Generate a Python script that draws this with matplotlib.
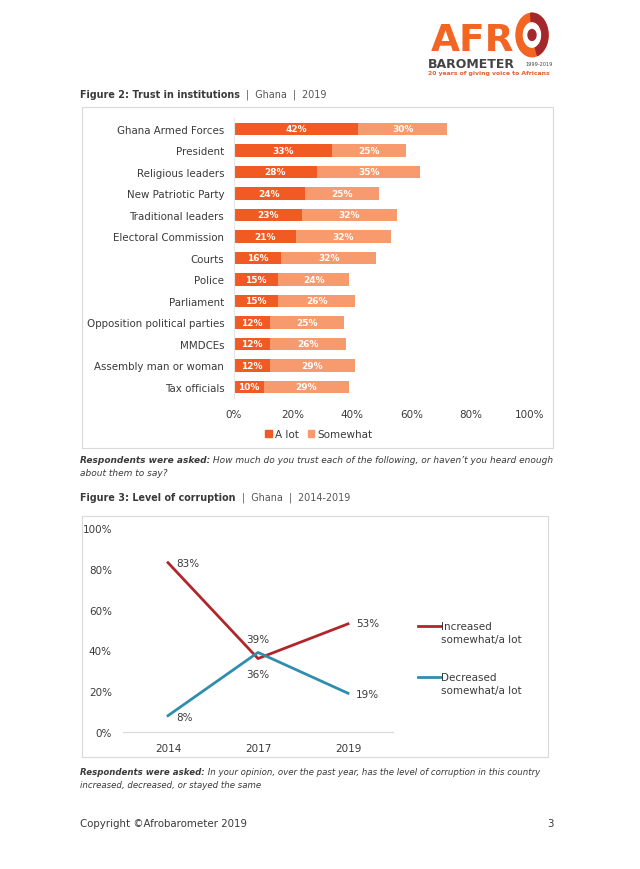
import matplotlib
matplotlib.use("Agg")
import matplotlib.pyplot as plt
import numpy as np
from matplotlib.patches import Patch, Rectangle, Wedge, Circle
from matplotlib.lines import Line2D

plt.rcParams["font.family"] = ["DejaVu Sans"]

# Figure 2 data
institutions = [
    "Ghana Armed Forces", "President", "Religious leaders", "New Patriotic Party",
    "Traditional leaders", "Electoral Commission", "Courts", "Police", "Parliament",
    "Opposition political parties", "MMDCEs", "Assembly man or woman", "Tax officials",
]
a_lot = [42, 33, 28, 24, 23, 21, 16, 15, 15, 12, 12, 12, 10]
somewhat = [30, 25, 35, 25, 32, 32, 32, 24, 26, 25, 26, 29, 29]
bar_ticks = [0, 20, 40, 60, 80, 100]

# Figure 3 data
years = ["2014", "2017", "2019"]
increased = [83, 36, 53]
decreased = [8, 39, 19]
line_ticks = [0, 20, 40, 60, 80, 100]

C_ALOT = "#F15A22"
C_SOME = "#F79A6E"
C_RED = "#B0262B"
C_BLUE = "#2F8DAE"
C_TEXT = "#3a3a3a"
C_BOX = "#d9d9d9"

W, H = 640, 870


def fx(x):
    return x / W


def fy(y):
    return 1 - y / H


fig = plt.figure(figsize=(6.4, 8.7), dpi=100)
fig.patch.set_facecolor("white")
renderer = fig.canvas.get_renderer()


def two_part(x, y, bold, rest, size, bold_style="normal", rest_style="normal",
             c1=C_TEXT, c2=C_TEXT):
    t = fig.text(fx(x), fy(y), bold, fontsize=size, fontweight="bold",
                 style=bold_style, color=c1, va="center", ha="left")
    bb = t.get_window_extent(renderer=renderer)
    fig.text(bb.x1 / W, fy(y), rest, fontsize=size, style=rest_style,
             color=c2, va="center", ha="left")


# ---- logo ----
fig.text(fx(431), fy(51), "AFR", fontsize=27, fontweight="bold", color="#F26522",
         va="baseline", ha="left")
logo_c = (fx(532), fy(36))
fig.add_artist(Wedge(logo_c, 16 / W, 0, 360, width=6 / W, color="#F26522",
                     transform=fig.transFigure))
fig.add_artist(Wedge(logo_c, 16 / W, -70, 95, width=6 / W, color="#A3282D",
                     transform=fig.transFigure))
fig.add_artist(Circle((fx(532), fy(36)), 4 / W, color="#A3282D", transform=fig.transFigure))
fig.text(fx(428), fy(64), "BAROMETER", fontsize=9, fontweight="bold", color="#444444",
         va="center", ha="left")
fig.text(fx(525), fy(64), "1999-2019", fontsize=3.6, color="#444444", va="center", ha="left")
fig.text(fx(428), fy(74), "20 years of giving voice to Africans", fontsize=4.4,
         fontweight="bold", color="#E0602E", va="center", ha="left")

# ---- Figure 2 ----
two_part(80, 95, "Figure 2: Trust in institutions", "  |  Ghana  |  2019", 6.9,
         c2="#555555")
fig.add_artist(Rectangle((fx(82), fy(449)), 471 / W, 341 / H, fill=False, ec=C_BOX,
                         lw=0.8, transform=fig.transFigure))

ax1 = fig.add_axes([fx(234), fy(398.75), 296 / W, 279.5 / H])
y = np.arange(len(institutions))
ax1.barh(y, a_lot, height=0.56, color=C_ALOT, label="A lot")
ax1.barh(y, somewhat, left=a_lot, height=0.56, color=C_SOME, label="Somewhat")
for i, (a, s) in enumerate(zip(a_lot, somewhat)):
    ax1.text(a / 2, i, f"{a}%", ha="center", va="center", color="white",
             fontsize=6.5, fontweight="bold")
    ax1.text(a + s / 2, i, f"{s}%", ha="center", va="center", color="white",
             fontsize=6.5, fontweight="bold")
ax1.set_xlim(0, 100)
ax1.set_ylim(len(institutions) - 0.5, -0.5)
ax1.set_yticks(y)
ax1.set_yticklabels(institutions, fontsize=7.4, color=C_TEXT)
ax1.set_xticks(bar_ticks)
ax1.set_xticklabels([f"{t}%" for t in bar_ticks], fontsize=7.5, color=C_TEXT)
ax1.tick_params(length=0)
ax1.tick_params(axis="y", pad=7)
ax1.tick_params(axis="x", pad=8)
for s in ["top", "right", "bottom"]:
    ax1.spines[s].set_visible(False)
ax1.spines["left"].set_color("#e6e6e6")
ax1.spines["left"].set_linewidth(0.8)

fig.legend(handles=[Patch(color=C_ALOT, label="A lot"), Patch(color=C_SOME, label="Somewhat")],
           loc="center", bbox_to_anchor=(fx(319), fy(435)), ncol=2, frameon=False,
           fontsize=7.5, handlelength=0.6, handleheight=0.6, handletextpad=0.3,
           columnspacing=0.9, labelcolor=C_TEXT)

two_part(80, 461, "Respondents were asked:",
         " How much do you trust each of the following, or haven\u2019t you heard enough",
         6.45, bold_style="italic", rest_style="italic")
fig.text(fx(80), fy(474), "about them to say?", fontsize=6.45, style="italic", color=C_TEXT,
         va="center", ha="left")

# ---- Figure 3 ----
two_part(80, 498, "Figure 3: Level of corruption", "  |  Ghana  |  2014-2019", 6.9,
         c2="#555555")
fig.add_artist(Rectangle((fx(82), fy(758)), 466 / W, 241 / H, fill=False, ec=C_BOX,
                         lw=0.8, transform=fig.transFigure))

ax2 = fig.add_axes([fx(123), fy(733), 270 / W, 204 / H])
x = np.arange(len(years))
ax2.plot(x, increased, color=C_RED, lw=2)
ax2.plot(x, decreased, color=C_BLUE, lw=2)
ax2.set_xlim(-0.5, 2.5)
ax2.set_ylim(0, 100)
ax2.set_xticks(x)
ax2.set_xticklabels(years, fontsize=7.5, color=C_TEXT)
ax2.set_yticks(line_ticks)
ax2.set_yticklabels([f"{t}%" for t in line_ticks], fontsize=7.5, color=C_TEXT)
ax2.tick_params(length=0)
ax2.tick_params(axis="y", pad=8)
ax2.tick_params(axis="x", pad=8)
for s in ["top", "right", "left"]:
    ax2.spines[s].set_visible(False)
ax2.spines["bottom"].set_color("#d9d9d9")
ax2.spines["bottom"].set_linewidth(0.8)

# label offsets in pixels (dx, dy); dx == 0 means centred on the point
inc_off = [(8, 0), (0, -15), (8, 1)]
dec_off = [(8, -1), (0, 13), (8, -1)]
for i in range(len(years)):
    for vals, offs in ((increased, inc_off), (decreased, dec_off)):
        dx, dy = offs[i]
        ha = "left" if dx > 0 else "center"
        ax2.annotate(f"{vals[i]}%", (x[i], vals[i]), xytext=(dx * 0.72, dy * 0.72),
                     textcoords="offset points", ha=ha, va="center", fontsize=7.5,
                     color=C_TEXT)

# legend for figure 3
for yy, col, lab in ((627, C_RED, "Increased"), (678, C_BLUE, "Decreased")):
    fig.add_artist(Line2D([fx(418), fx(441)], [fy(yy), fy(yy)], color=col, lw=2,
                          transform=fig.transFigure))
    fig.text(fx(441), fy(yy), lab, fontsize=7.5, color=C_TEXT, va="center", ha="left")
    fig.text(fx(441), fy(yy + 13), "somewhat/a lot", fontsize=7.5, color=C_TEXT,
             va="center", ha="left")

two_part(80, 773, "Respondents were asked:",
         " In your opinion, over the past year, has the level of corruption in this country",
         6.25, bold_style="italic", rest_style="italic")
fig.text(fx(80), fy(786), "increased, decreased, or stayed the same", fontsize=6.25,
         style="italic", color=C_TEXT, va="center", ha="left")

# footer
fig.text(fx(80), fy(824), "Copyright \u00a9Afrobarometer 2019", fontsize=7.4, color=C_TEXT,
         va="center", ha="left")
fig.text(fx(554), fy(824), "3", fontsize=7.4, color=C_TEXT, va="center", ha="right")

fig.savefig("out.png", dpi=100)
